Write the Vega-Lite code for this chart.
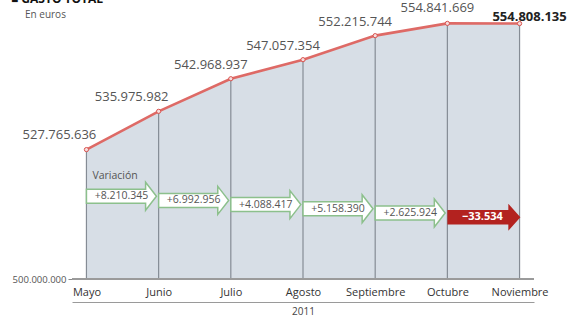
{
  "$schema": "https://vega.github.io/schema/vega-lite/v6.json",
  "width": 462,
  "height": 261,
  "autosize": {"type": "none"},
  "padding": {"left": 72, "top": 18, "right": 36, "bottom": 36},
  "background": "white",
  "config": {
    "view": {"stroke": null},
    "font": "Open Sans",
    "locale": {"number": {"decimal": ",", "thousands": ".", "grouping": [3], "currency": ["", " €"]}}
  },
  "title": {
    "text": "■ GASTO TOTAL",
    "subtitle": "\u2800\u2800En euros",
    "anchor": "start",
    "frame": "group",
    "fontSize": 12,
    "fontWeight": "bold",
    "color": "#111111",
    "subtitleFontSize": 10,
    "subtitleColor": "#555555",
    "subtitlePadding": 4,
    "offset": 0,
    "dx": -61,
    "dy": 19
  },
  "datasets": {
    "gasto": [
      {"mes": "Mayo", "valor": 527765636},
      {"mes": "Junio", "valor": 535975982},
      {"mes": "Julio", "valor": 542968937},
      {"mes": "Agosto", "valor": 547057354},
      {"mes": "Septiembre", "valor": 552215744},
      {"mes": "Octubre", "valor": 554841669},
      {"mes": "Noviembre", "valor": 554808135}
    ],
    "variacion": [
      {"mes": "Mayo", "nivel": 1, "cambio": 8210345},
      {"mes": "Junio", "nivel": 2, "cambio": 6992956},
      {"mes": "Julio", "nivel": 3, "cambio": 4088417},
      {"mes": "Agosto", "nivel": 4, "cambio": 5158390},
      {"mes": "Septiembre", "nivel": 5, "cambio": 2625924},
      {"mes": "Octubre", "nivel": 6, "cambio": -33534}
    ]
  },
  "encoding": {
    "x": {
      "field": "mes",
      "type": "ordinal",
      "scale": {"type": "point", "padding": 0.2, "domain": ["Mayo", "Junio", "Julio", "Agosto", "Septiembre", "Octubre", "Noviembre"]},
      "axis": {
        "title": "2011",
        "titleFontSize": 10,
        "titleFontWeight": "normal",
        "titleColor": "#444444",
        "titlePadding": 4,
        "labelAngle": 0,
        "labelFontSize": 11,
        "labelColor": "#333333",
        "ticks": false,
        "labelPadding": -10,
        "labelBaseline": "middle",
        "domainColor": "#9a9a9a",
        "offset": 23,
        "grid": false
      }
    }
  },
  "layer": [
    {
      "data": {"name": "gasto"},
      "encoding": {
        "y": {
          "field": "valor",
          "type": "quantitative",
          "scale": {"domain": [500000000, 556000000], "zero": false, "nice": false},
          "axis": {
            "values": [500000000],
            "format": ",d",
            "title": null,
            "grid": false,
            "domain": false,
            "tickSize": 4,
            "tickColor": "#888888",
            "labelFontSize": 9.5,
            "labelColor": "#555555",
            "labelPadding": 2
          }
        }
      },
      "layer": [
        {
          "mark": {"type": "area", "color": "#d7dee6", "opacity": 1},
          "encoding": {"y2": {"datum": 500000000}}
        },
        {
          "mark": {"type": "rule", "color": "#858c95", "strokeWidth": 1.2},
          "encoding": {"y2": {"datum": 500000000}}
        },
        {
          "mark": {"type": "rule", "color": "#9a9a9a", "strokeWidth": 1},
          "encoding": {"x": {"value": 0}, "x2": {"value": 462}, "y": {"datum": 500000000}}
        },
        {
          "mark": {"type": "line", "color": "#de6a66", "strokeWidth": 2.6}
        },
        {
          "mark": {"type": "point", "filled": true, "fill": "#f6dcdc", "stroke": "#d9534f", "strokeWidth": 1, "size": 18, "opacity": 1}
        },
        {
          "transform": [{"filter": {"field": "mes", "oneOf": ["Mayo", "Junio"]}}],
          "mark": {"type": "text", "dx": -27, "dy": -14.5, "fontSize": 13, "color": "#555555"},
          "encoding": {"text": {"field": "valor", "type": "quantitative", "format": ",d"}}
        },
        {
          "transform": [{"filter": {"field": "mes", "oneOf": ["Julio", "Agosto", "Septiembre"]}}],
          "mark": {"type": "text", "dx": -20, "dy": -14, "fontSize": 13, "color": "#555555"},
          "encoding": {"text": {"field": "valor", "type": "quantitative", "format": ",d"}}
        },
        {
          "transform": [{"filter": {"field": "mes", "oneOf": ["Octubre"]}}],
          "mark": {"type": "text", "dx": -10, "dy": -15, "fontSize": 13, "color": "#555555"},
          "encoding": {"text": {"field": "valor", "type": "quantitative", "format": ",d"}}
        },
        {
          "transform": [{"filter": {"field": "mes", "oneOf": ["Noviembre"]}}],
          "mark": {"type": "text", "dx": 10, "dy": -7, "fontSize": 13, "fontWeight": "bold", "color": "#222222"},
          "encoding": {"text": {"field": "valor", "type": "quantitative", "format": ",d"}}
        }
      ]
    },
    {
      "data": {"name": "variacion"},
      "encoding": {
        "y": {
          "field": "nivel",
          "type": "quantitative",
          "scale": {"domain": [-41.4, 20.7], "reverse": true, "zero": false, "nice": false},
          "axis": null
        }
      },
      "layer": [
        {
          "transform": [{"filter": "datum.cambio > 0"}],
          "mark": {"type": "point", "shape": "M0,-0.2L1.69,-0.2L1.69,-0.4L2,0L1.69,0.4L1.69,0.2L0,0.2Z", "filled": true, "fill": "#ffffff", "stroke": "#8cc08c", "strokeWidth": 1.5, "size": 4900, "opacity": 1}
        },
        {
          "transform": [{"filter": "datum.cambio < 0"}],
          "mark": {"type": "point", "shape": "M0,-0.2L1.67,-0.2L1.67,-0.37L2,0L1.67,0.37L1.67,0.2L0,0.2Z", "filled": true, "fill": "#b3221f", "stroke": null, "size": 5329, "opacity": 1}
        },
        {
          "transform": [{"filter": "datum.cambio > 0"}],
          "mark": {"type": "text", "dx": 35, "fontSize": 10.5, "color": "#555555", "baseline": "middle"},
          "encoding": {"text": {"field": "cambio", "type": "quantitative", "format": "+,d"}}
        },
        {
          "transform": [{"filter": "datum.cambio < 0"}],
          "mark": {"type": "text", "dx": 35, "fontSize": 11, "fontWeight": "bold", "color": "#ffffff", "baseline": "middle"},
          "encoding": {"text": {"field": "cambio", "type": "quantitative", "format": ",d"}}
        },
        {
          "transform": [{"filter": "datum.nivel == 1"}],
          "mark": {"type": "text", "dx": 6, "align": "left", "baseline": "middle", "fontSize": 10.5, "color": "#555555", "text": "Variación"},
          "encoding": {"y": {"datum": -3.8}}
        }
      ]
    }
  ],
  "resolve": {"scale": {"y": "independent"}}
}
